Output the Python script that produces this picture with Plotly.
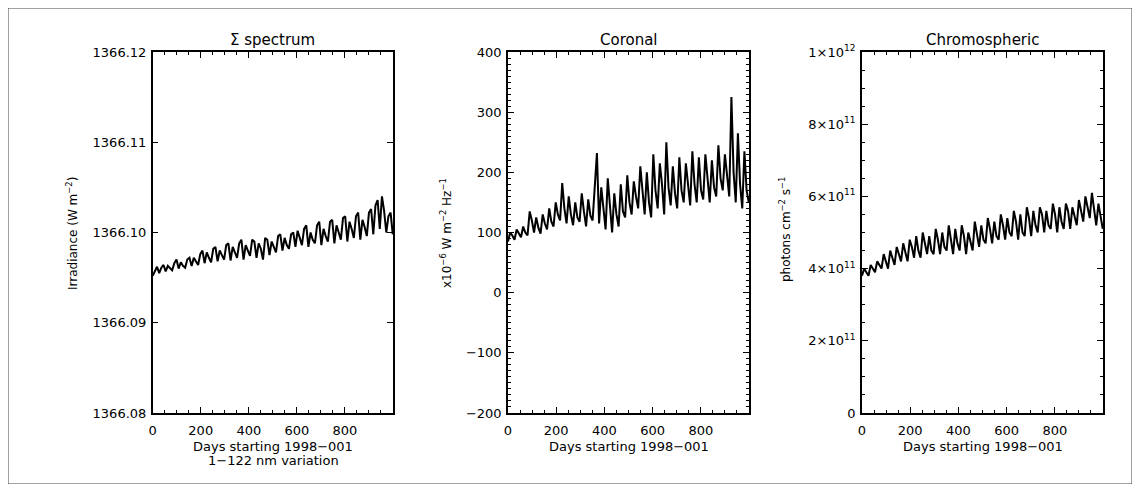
import plotly.graph_objects as go

# ---------------- data ----------------
days = list(range(0, 1000, 9))  # sampling of the time axis (days starting 1998-001)

sigma_irr = [1366.0952, 1366.0958, 1366.0962, 1366.0955, 1366.0961, 1366.0964,
             1366.0957, 1366.0963, 1366.0960, 1366.0958, 1366.0966, 1366.0970,
             1366.0960, 1366.0967, 1366.0963, 1366.0961, 1366.0970, 1366.0972,
             1366.0963, 1366.0972, 1366.0968, 1366.0964, 1366.0976, 1366.0980,
             1366.0966, 1366.0978, 1366.0972, 1366.0967, 1366.0982, 1366.0984,
             1366.0968, 1366.0980, 1366.0975, 1366.0970, 1366.0986, 1366.0988,
             1366.0969, 1366.0984, 1366.0978, 1366.0972, 1366.0988, 1366.0992,
             1366.0970, 1366.0986, 1366.0980, 1366.0974, 1366.0992, 1366.0990,
             1366.0972, 1366.0988, 1366.0982, 1366.0970, 1366.0994, 1366.0992,
             1366.0975, 1366.0990, 1366.0984, 1366.0978, 1366.0996, 1366.0998,
             1366.0980, 1366.0994, 1366.0986, 1366.0982, 1366.0998, 1366.1000,
             1366.0984, 1366.1002, 1366.0994, 1366.0986, 1366.1004, 1366.1008,
             1366.0984, 1366.1000, 1366.0992, 1366.0988, 1366.1008, 1366.1012,
             1366.0986, 1366.1004, 1366.0996, 1366.0990, 1366.1012, 1366.1014,
             1366.0988, 1366.1008, 1366.1000, 1366.0992, 1366.1016, 1366.1018,
             1366.0990, 1366.1012, 1366.1004, 1366.0994, 1366.1018, 1366.1022,
             1366.0992, 1366.1014, 1366.1006, 1366.0996, 1366.1022, 1366.1026,
             1366.0998, 1366.1030, 1366.1036, 1366.1004, 1366.1040, 1366.1024,
             1366.1000, 1366.1018, 1366.1022, 1366.0998]

coronal = [85, 100, 95, 88, 105, 98, 92, 110, 100, 95, 135, 120,
           100, 125, 108, 98, 130, 115, 105, 140, 118, 110, 150, 130,
           120, 182, 140, 115, 160, 130, 112, 150, 125, 118, 165, 135,
           110, 155, 128, 120, 170, 232, 115, 175, 140, 105, 190, 150,
           100, 165, 130, 110, 180, 135, 125, 195, 150, 130, 185, 160,
           140, 210, 165, 130, 200, 150, 125, 230, 170, 140, 215, 180,
           130, 250, 175, 145, 210, 165, 140, 225, 170, 150, 215, 175,
           145, 235, 180, 150, 225, 170, 155, 230, 185, 150, 220, 175,
           160, 245, 190, 170, 230, 195, 160, 325, 200, 150, 265, 180,
           140, 235, 170, 150]

chromo = [3.8e11, 4.0e11, 3.9e11, 3.8e11, 4.1e11, 4.0e11, 3.9e11, 4.2e11, 4.1e11,
          4.0e11, 4.4e11, 4.2e11, 4.0e11, 4.5e11, 4.3e11, 4.1e11, 4.6e11, 4.4e11,
          4.2e11, 4.7e11, 4.4e11, 4.2e11, 4.8e11, 4.6e11, 4.3e11, 4.9e11, 4.5e11,
          4.3e11, 5.0e11, 4.7e11, 4.4e11, 4.9e11, 4.5e11, 4.4e11, 5.1e11, 4.8e11,
          4.4e11, 5.0e11, 4.6e11, 4.5e11, 5.2e11, 4.8e11, 4.4e11, 5.1e11, 4.7e11,
          4.5e11, 5.2e11, 4.9e11, 4.4e11, 5.0e11, 4.7e11, 4.5e11, 5.3e11, 4.9e11,
          4.6e11, 5.2e11, 4.8e11, 4.7e11, 5.4e11, 5.1e11, 4.7e11, 5.3e11, 4.9e11,
          4.8e11, 5.5e11, 5.2e11, 4.8e11, 5.4e11, 5.0e11, 4.9e11, 5.6e11, 5.3e11,
          4.8e11, 5.5e11, 5.0e11, 4.9e11, 5.7e11, 5.4e11, 4.9e11, 5.6e11, 5.2e11,
          5.0e11, 5.7e11, 5.5e11, 5.0e11, 5.6e11, 5.2e11, 5.1e11, 5.8e11, 5.5e11,
          5.0e11, 5.7e11, 5.3e11, 5.1e11, 5.8e11, 5.6e11, 5.1e11, 5.7e11, 5.4e11,
          5.2e11, 5.9e11, 5.6e11, 5.3e11, 6.0e11, 5.7e11, 5.4e11, 6.1e11, 5.6e11,
          5.2e11, 5.8e11, 5.5e11, 5.1e11]

x_ticks = [0, 200, 400, 600, 800]
x_ticktext = ["0", "200", "400", "600", "800"]

sigma_ticks = [1366.08, 1366.09, 1366.10, 1366.11, 1366.12]
sigma_ticktext = ["1366.08", "1366.09", "1366.10", "1366.11", "1366.12"]

coronal_ticks = [-200, -100, 0, 100, 200, 300, 400]
coronal_ticktext = ["\u2212200", "\u2212100", "0", "100", "200", "300", "400"]

chromo_ticks = [0, 2e11, 4e11, 6e11, 8e11, 1e12]
chromo_ticktext = ["0", "2\u00d710<sup>11</sup>", "4\u00d710<sup>11</sup>",
                   "6\u00d710<sup>11</sup>", "8\u00d710<sup>11</sup>",
                   "1\u00d710<sup>12</sup>"]

titles = ["\u03a3 spectrum", "Coronal", "Chromospheric"]
ytitles = ["Irradiance (W m<sup>\u22122</sup>)",
           "x10<sup>\u22126</sup> W m<sup>\u22122</sup> Hz<sup>\u22121</sup>",
           "photons cm<sup>\u22122</sup> s<sup>\u22121</sup>"]
xtitle = "Days starting 1998\u2212001"
subtitle = "1\u2212122 nm variation"

# ---------------- layout ----------------
# The page body has an 8 px margin, so the figure is drawn 8 px in from the
# window corner; window coordinates are converted accordingly.
OFF = 8
W, H = 1140 - 2 * OFF, 492 - 2 * OFF
FONT = "DejaVu Sans"

def px(x):
    return (x - OFF) / W

def py(y):
    return 1 - (y - OFF) / H

panels_px = [(152.7, 393.0), (508.0, 749.0), (862.0, 1103.0)]
top_px, bot_px = 52.0, 413.0

fig = go.Figure()
series = [sigma_irr, coronal, chromo]
for i, ys in enumerate(series):
    fig.add_trace(go.Scatter(
        x=days, y=ys, mode="lines",
        line=dict(color="black", width=2),
        xaxis="x" if i == 0 else f"x{i+1}",
        yaxis="y" if i == 0 else f"y{i+1}",
        showlegend=False, hoverinfo="skip"))

axis_common = dict(
    showline=True, linecolor="black", linewidth=1.5, mirror="ticks",
    ticks="inside", ticklen=6, tickwidth=1.2, tickcolor="black",
    showgrid=False, zeroline=False, automargin=False,
    tickfont=dict(family=FONT, size=13, color="black"),
)

yspecs = [
    dict(range=[1366.08, 1366.12], tickvals=sigma_ticks, ticktext=sigma_ticktext),
    dict(range=[-200, 400], tickvals=coronal_ticks, ticktext=coronal_ticktext,
         minor=dict(ticks="inside", ticklen=3, dtick=10, tickcolor="black", tickwidth=1)),
    dict(range=[0, 1e12], tickvals=chromo_ticks, ticktext=chromo_ticktext,
         minor=dict(ticks="inside", ticklen=3, dtick=5e10, tickcolor="black", tickwidth=1)),
]

layout = dict(
    width=W, height=H, autosize=False,
    margin=dict(l=0, r=0, t=0, b=0, pad=0),
    paper_bgcolor="white", plot_bgcolor="white",
    showlegend=False,
)

for i, (x0, x1) in enumerate(panels_px):
    xname = "xaxis" if i == 0 else f"xaxis{i+1}"
    yname = "yaxis" if i == 0 else f"yaxis{i+1}"
    xa = dict(axis_common)
    xa.update(domain=[px(x0), px(x1)], range=[0, 1000],
              tickvals=x_ticks, ticktext=x_ticktext, ticklabelstandoff=5,
              anchor="y" if i == 0 else f"y{i+1}",
              minor=dict(ticks="inside", ticklen=3, dtick=50, tickcolor="black", tickwidth=1))
    ya = dict(axis_common)
    ya.update(yspecs[i])
    ya.update(domain=[py(bot_px), py(top_px)],
              anchor="x" if i == 0 else f"x{i+1}", ticklabelstandoff=2)
    layout[xname] = xa
    layout[yname] = ya

fig.update_layout(**layout)

ann = []
ytitle_px = [(72, 234), (446, 233), (785, 230)]
for i, (x0, x1) in enumerate(panels_px):
    cx = (x0 + x1) / 2
    ann.append(dict(text=titles[i], x=px(cx), y=py(40), xref="paper", yref="paper",
                    showarrow=False, xanchor="center", yanchor="middle",
                    font=dict(family=FONT, size=15, color="black")))
    ann.append(dict(text=xtitle, x=px(cx), y=py(446), xref="paper", yref="paper",
                    showarrow=False, xanchor="center", yanchor="middle",
                    font=dict(family=FONT, size=13, color="black")))
    ann.append(dict(text=ytitles[i], x=px(ytitle_px[i][0]), y=py(ytitle_px[i][1]),
                    xref="paper", yref="paper", textangle=-90,
                    showarrow=False, xanchor="center", yanchor="middle",
                    font=dict(family=FONT, size=12, color="black")))
ann.append(dict(text=subtitle, x=px(273), y=py(460), xref="paper", yref="paper",
                showarrow=False, xanchor="center", yanchor="middle",
                font=dict(family=FONT, size=13, color="black")))
fig.update_layout(annotations=ann)

fig.add_shape(type="rect", xref="paper", yref="paper",
              x0=px(8), x1=px(1132), y0=py(484), y1=py(8),
              line=dict(color="#444444", width=1), fillcolor="rgba(0,0,0,0)")

fig.write_html("out.html")
